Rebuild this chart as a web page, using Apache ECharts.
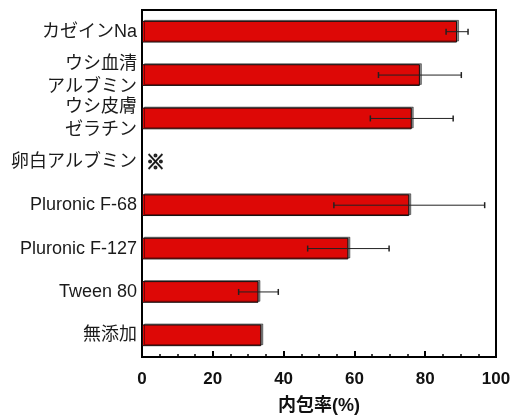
<!doctype html>
<html lang="ja">
<head>
	<meta charset="utf-8" />
	<title>内包率</title>
	<script src="https://cdn.jsdelivr.net/npm/echarts@6/dist/echarts.min.js"></script>
	<style>
		html, body { margin: 0; padding: 0; background: #fff; }
		#chart { width: 516px; height: 420px; }
	</style>
</head>
<body>
	<div id="chart"></div>
	<script>
		const categories = ['カゼインNa', 'ウシ血清\nアルブミン', 'ウシ皮膚\nゼラチン', '卵白アルブミン', 'Pluronic F-68', 'Pluronic F-127', 'Tween 80', '無添加'];
		const means = [89, 78.5, 76.2, null, 75.5, 58.3, 32.9, 33.7];
		const errors = [3.1, 11.7, 11.7, null, 21.3, 11.5, 5.6, 0];
		const xTicks = [0, 20, 40, 60, 80, 100];
		// category with no measurement gets the ※ mark
		const markIndex = 3;

		const font = "'Liberation Sans', 'Noto Sans CJK JP', sans-serif";

		const errData = [];
		means.forEach((m, i) => {
			if (m == null || !errors[i]) return;
			errData.push([i, m - errors[i], m + errors[i]]);
		});

		const chart = echarts.init(document.getElementById('chart'));
		chart.setOption({
			animation: false,
			grid: {
				left: 142, right: 20, top: 10, bottom: 60,
				show: true, borderColor: '#000', borderWidth: 2
			},
			xAxis: {
				type: 'value',
				min: xTicks[0], max: xTicks[xTicks.length - 1], interval: 20,
				axisLine: { show: true, lineStyle: { color: '#000', width: 2 } },
				axisTick: { show: true, inside: true, length: 6, lineStyle: { color: '#000', width: 2 } },
				minorTick: { show: true, splitNumber: 4, length: 3, lineStyle: { color: '#000', width: 1.5 } },
				splitLine: { show: false },
				axisLabel: { margin: 14, color: '#111', fontSize: 17, fontWeight: 'bold', fontFamily: font },
				name: '内包率(%)',
				nameLocation: 'middle',
				nameGap: 40,
				nameTextStyle: { color: '#111', fontSize: 18, fontWeight: 'bold', fontFamily: font }
			},
			yAxis: {
				type: 'category',
				inverse: true,
				data: categories,
				axisLine: { show: true, lineStyle: { color: '#000', width: 2 } },
				axisTick: { show: false },
				axisLabel: { margin: 5, color: '#1a1a1a', fontSize: 18, lineHeight: 23, fontFamily: font }
			},
			series: [
				{
					type: 'bar',
					data: means,
					barWidth: '50%',
					itemStyle: {
						color: '#dd0806',
						borderColor: '#111',
						borderWidth: 1,
						shadowColor: 'rgba(0,0,0,0.45)',
						shadowOffsetX: 2,
						shadowOffsetY: -1
					},
					z: 2
				},
				{
					type: 'custom',
					encode: { x: [1, 2], y: 0 },
					data: errData,
					z: 5,
					renderItem: (params, api) => {
						const cat = api.value(0);
						const a = api.coord([api.value(1), cat]);
						const b = api.coord([api.value(2), cat]);
						const h = 3;
						const style = { stroke: '#222', lineWidth: 1 };
						return {
							type: 'group',
							children: [
								{ type: 'line', shape: { x1: a[0], y1: a[1], x2: b[0], y2: b[1] }, style },
								{ type: 'line', shape: { x1: a[0], y1: a[1] - h, x2: a[0], y2: a[1] + h }, style: { stroke: '#222', lineWidth: 1.5 } },
								{ type: 'line', shape: { x1: b[0], y1: b[1] - h, x2: b[0], y2: b[1] + h }, style: { stroke: '#222', lineWidth: 1.5 } }
							]
						};
					}
				},
				{
					type: 'scatter',
					data: [[0, markIndex]],
					symbolSize: 0,
					z: 6,
					label: {
						show: true,
						position: 'right',
						distance: 4,
						formatter: '※',
						color: '#000',
						fontSize: 19,
						fontWeight: 900,
						fontFamily: "'Noto Sans CJK JP', sans-serif",
						textBorderColor: '#000',
						textBorderWidth: 1.2
					}
				}
			]
		});
	</script>
</body>
</html>
